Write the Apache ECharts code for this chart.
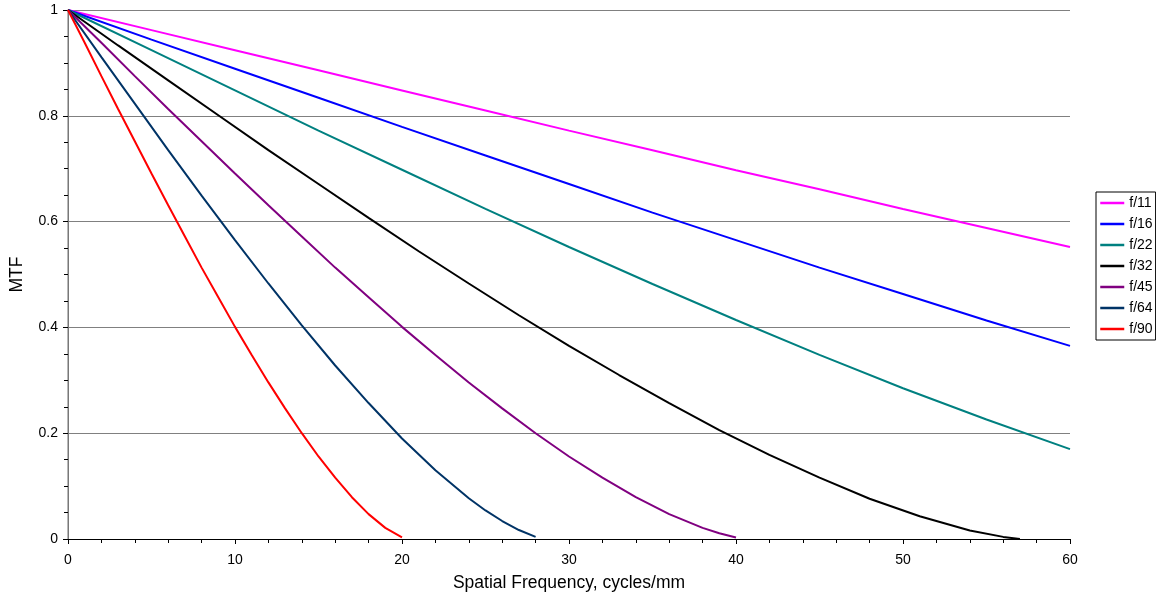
<!DOCTYPE html>
<html>
<head>
<meta charset="utf-8">
<script src="https://cdn.jsdelivr.net/npm/echarts@6/dist/echarts.min.js"></script>
<style>
html,body{margin:0;padding:0;background:#fff;}
#chart{width:1156px;height:597px;}
</style>
</head>
<body>
<div id="chart"></div>
<script>
// Series names
const seriesNames = ['f/11', 'f/16', 'f/22', 'f/32', 'f/45', 'f/64', 'f/90'];

// x positions (cycles/mm) and MTF readings per series
const x_f11 = [0, 5, 10, 15, 20, 25, 30, 35, 40, 45, 50, 55, 60];
const y_f11 = [1, 0.962, 0.924, 0.886, 0.848, 0.810, 0.772, 0.735, 0.697, 0.661, 0.624, 0.588, 0.552];

const x_f16 = [0, 5, 10, 15, 20, 25, 30, 35, 40, 45, 50, 55, 60];
const y_f16 = [1, 0.944, 0.889, 0.834, 0.779, 0.725, 0.671, 0.617, 0.565, 0.513, 0.463, 0.413, 0.365];

const x_f22 = [0, 5, 10, 15, 20, 25, 30, 35, 40, 45, 50, 55, 60];
const y_f22 = [1, 0.924, 0.848, 0.772, 0.698, 0.624, 0.552, 0.482, 0.414, 0.348, 0.285, 0.226, 0.170];

const x_f32 = [0, 3, 6, 9, 12, 15, 18, 21, 24, 27, 30, 33, 36, 39, 42, 45, 48, 51, 54, 56, 57];
const y_f32 = [1, 0.933, 0.867, 0.801, 0.735, 0.671, 0.607, 0.544, 0.483, 0.423, 0.365, 0.310, 0.257, 0.206, 0.159, 0.116, 0.076, 0.043, 0.016, 0.004, 0.000];

const x_f45 = [0, 2, 4, 6, 8, 10, 12, 14, 16, 18, 20, 22, 24, 26, 28, 30, 32, 34, 36, 38, 39, 40];
const y_f45 = [1, 0.938, 0.875, 0.813, 0.752, 0.691, 0.631, 0.572, 0.513, 0.457, 0.401, 0.348, 0.296, 0.247, 0.200, 0.156, 0.116, 0.079, 0.047, 0.021, 0.011, 0.003];

const x_f64 = [0, 2, 4, 6, 8, 10, 12, 14, 16, 18, 20, 22, 24, 25, 26, 27, 28];
const y_f64 = [1, 0.911, 0.823, 0.735, 0.649, 0.565, 0.483, 0.404, 0.328, 0.257, 0.190, 0.130, 0.077, 0.054, 0.034, 0.017, 0.004];

const x_f90 = [0, 1, 2, 3, 4, 5, 6, 7, 8, 9, 10, 11, 12, 13, 14, 15, 16, 17, 18, 19, 20];
const y_f90 = [1, 0.938, 0.875, 0.813, 0.752, 0.691, 0.631, 0.572, 0.513, 0.457, 0.401, 0.348, 0.296, 0.247, 0.200, 0.156, 0.116, 0.079, 0.047, 0.021, 0.003];

// Axis ticks
const xTicks = [0, 10, 20, 30, 40, 50, 60];
const yTicks = [0, 0.2, 0.4, 0.6, 0.8, 1];

const colors = ['#FF00FF', '#0000FF', '#008080', '#000000', '#800080', '#003366', '#FF0000'];
const xs = [x_f11, x_f16, x_f22, x_f32, x_f45, x_f64, x_f90];
const ys = [y_f11, y_f16, y_f22, y_f32, y_f45, y_f64, y_f90];

const FONT = '"Liberation Sans", Arial, sans-serif';

const chart = echarts.init(document.getElementById('chart'), null, {renderer: 'canvas'});

const series = seriesNames.map((name, i) => ({
  name: name,
  type: 'line',
  xAxisIndex: 0,
  yAxisIndex: 0,
  data: xs[i].map((x, k) => [x, ys[i][k]]),
  symbol: 'none',
  showSymbol: false,
  smooth: false,
  lineStyle: {color: colors[i], width: 2},
  itemStyle: {color: colors[i], opacity: 0},
  animation: false,
  z: 10
}));

chart.setOption({
  animation: false,
  backgroundColor: '#ffffff',
  textStyle: {fontFamily: FONT},
  grid: {left: 66, right: 86, top: 10, bottom: 57, containLabel: false},
  legend: {
    orient: 'vertical',
    left: 1096,
    top: 192,
    data: seriesNames,
    itemWidth: 24,
    itemHeight: 14,
    itemGap: 7,
    padding: [4, 3, 4, 3],
    borderColor: '#000000',
    borderWidth: 1,
    borderRadius: 0,
    itemStyle: {opacity: 0},
    lineStyle: {width: 2.5},
    textStyle: {fontFamily: FONT, fontSize: 14, color: '#000'},
    selectedMode: false
  },
  xAxis: {
    type: 'value',
    min: xTicks[0],
    max: xTicks[xTicks.length - 1],
    interval: 10,
    name: 'Spatial Frequency, cycles/mm',
    nameLocation: 'middle',
    nameGap: 35,
    nameTextStyle: {fontFamily: FONT, fontSize: 17.5, color: '#000'},
    axisLine: {show: true, onZero: false, lineStyle: {color: '#000', width: 1}},
    axisTick: {show: true, inside: false, length: 5, lineStyle: {color: '#000'}},
    minorTick: {show: true, splitNumber: 5, length: 4, lineStyle: {color: '#000'}},
    axisLabel: {fontFamily: FONT, fontSize: 14, color: '#000', margin: 14},
    splitLine: {show: false}
  },
  yAxis: [{
    type: 'value',
    min: yTicks[0],
    max: yTicks[yTicks.length - 1],
    interval: 0.2,
    name: 'MTF',
    nameLocation: 'middle',
    nameGap: 42,
    nameRotate: 90,
    nameTextStyle: {fontFamily: FONT, fontSize: 17.5, color: '#000'},
    axisLine: {show: true, onZero: false, lineStyle: {color: '#000', width: 1}},
    axisTick: {show: true, inside: false, length: 5, lineStyle: {color: '#000'}},
    minorTick: {show: true, splitNumber: 4, length: 4, lineStyle: {color: '#000'}},
    axisLabel: {fontFamily: FONT, fontSize: 14, color: '#000', margin: 10},
    splitLine: {show: true, lineStyle: {color: '#808080', width: 1}}
  }, {
    type: 'value',
    position: 'right',
    min: 0,
    max: 1,
    axisLine: {show: true, lineStyle: {color: '#A0A0A0', width: 1.5}},
    axisTick: {show: false},
    axisLabel: {show: false},
    splitLine: {show: false}
  }],
  series: series
});
</script>
</body>
</html>
